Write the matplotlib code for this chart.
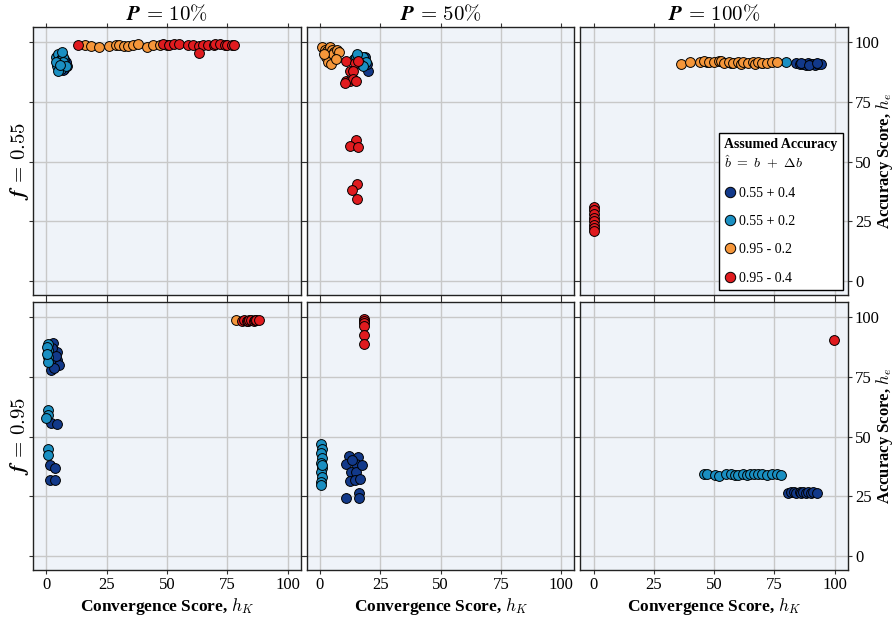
import matplotlib.pyplot as plt
from matplotlib.lines import Line2D

plt.rcParams["font.family"] = ["Liberation Serif", "DejaVu Serif"]
plt.rcParams["mathtext.fontset"] = "cm"

# ── Data ────────────────────────────────────────────────────────────────────
series_labels = ["0.55 + 0.4", "0.55 + 0.2", "0.95 - 0.2", "0.95 - 0.4"]
series_colors = ["#12398a", "#1a8fc2", "#f5963a", "#e01b1f"]
col_titles = [r"$\boldsymbol{P}\,\mathbf{=}\,\mathbf{10\%}$", r"$\boldsymbol{P}\,\mathbf{=}\,\mathbf{50\%}$",
              r"$\boldsymbol{P}\,\mathbf{=}\,\mathbf{100\%}$"]
row_titles = [r"$\boldsymbol{f}\,\mathbf{=}\,\mathbf{0.55}$", r"$\boldsymbol{f}\,\mathbf{=}\,\mathbf{0.95}$"]
ticks = [0, 25, 50, 75, 100]

# f = 0.55, P = 10%
a1_db_x = [7, 7.5, 8, 8.5, 7, 8, 7.5]
a1_db_y = [90, 89, 91, 90, 88.5, 92, 93]
a1_mb_x = [4, 5, 6, 5.5, 7, 4.5, 6, 7, 5, 6.5, 8, 4, 5.5]
a1_mb_y = [94, 95, 93, 91, 94, 90, 89, 92, 88, 96, 90, 92, 90.5]
a1_or_x = [16, 18.5, 22, 25.8, 28.7, 30, 32, 34, 36, 38, 41.8, 44.3, 47, 50]
a1_or_y = [99, 98.6, 98.2, 98.7, 98.8, 98.9, 98.7, 98.6, 98.9, 99.2, 98, 98.9, 99, 99.1]
a1_rd_x = [13, 48.5, 51, 53, 55, 58.6, 60.7, 63.5, 65, 67, 69.7, 70, 72, 74, 75, 77, 78, 63.5]
a1_rd_y = [99, 99.3, 99, 99.2, 99.2, 99, 99.1, 98.6, 99, 99, 98.8, 99.3, 99.2, 99.1, 98.8, 99.1, 99, 95.5]

# f = 0.55, P = 50%
a2_db_x = [17, 18, 19, 20, 18.5, 19.5]
a2_db_y = [93, 92, 90, 88, 94, 91]
a2_mb_x = [14, 15, 16, 17, 18, 19, 16.5, 18, 15.5]
a2_mb_y = [93, 94, 92, 93, 94, 92, 91, 90, 95]
a2_or_x = [1, 2, 3, 4, 5, 6, 2.5, 3.5, 5.5, 7, 8, 1.5, 4.5, 6.5]
a2_or_y = [98, 97, 96.5, 98, 97, 96, 94, 92, 95, 97, 96, 95, 91, 93]
a2_rd_x = [11, 14.4, 15.6, 12.3, 13.6, 11, 12.3, 13.6, 15.1, 10.3, 14.8, 12.3, 15.6, 15.4, 13.3, 15.4]
a2_rd_y = [92.2, 91.5, 92.2, 88, 88, 83.8, 83.8, 84.5, 83.8, 83.1, 59.2, 56.4, 56.2, 40.6, 37.9, 34.3]

# f = 0.55, P = 100%
a3_db_x = [84, 85.5, 87, 88, 89, 90, 91, 92, 93, 94.5, 86, 89.5, 92.5]
a3_db_y = [91.2, 90.8, 91, 90.5, 91.2, 90.8, 91, 90.5, 90.8, 90.8, 91.4, 90.6, 91.2]
a3_mb_x = [80, 47, 57, 70]
a3_mb_y = [92, 91.8, 91.5, 91.5]
a3_or_x = [36.4, 39.8, 44, 46, 48, 50, 52, 53, 54, 56, 58, 60, 61, 62, 64, 66, 67, 68, 70, 72, 74, 76]
a3_or_y = [91, 91.8, 92, 92.3, 91.8, 92, 92.3, 92.1, 91.2, 91.8, 91.5, 92, 90.8, 91.6, 91.2, 91.8, 91, 92, 91.5, 91.2, 91.6, 91.7]
a3_rd_x = [0, 0, 0, 0, 0, 0, 0, 0]
a3_rd_y = [31, 29.5, 28, 26.5, 25, 23.5, 22, 21]

# f = 0.95, P = 10%
b1_db_x = [2.9, 4.6, 4.6, 5.3, 1.9, 3.3, 2.5, 4, 1.9, 4.6, 1.5, 3.7, 1.6, 3.7]
b1_db_y = [89.1, 85.5, 82, 79.9, 77.8, 78.7, 87, 84, 55.5, 55.2, 38.1, 36.7, 31.8, 31.8]
b1_mb_x = [0.5, 0.5, 0.5, 0.5, 0.3, 0.3, 0.5, 0.5, 0, 0.5, 0.5]
b1_mb_y = [89, 86.2, 83.4, 81.3, 87.5, 84.8, 61.1, 59, 57.6, 45, 42.3]
b1_or_x = [78.7]
b1_or_y = [99]
b1_rd_x = [81, 82, 83, 83.5, 84, 85, 86, 86.5, 87, 88]
b1_rd_y = [98.7, 99, 98.6, 98.5, 98.9, 99, 98.7, 99.1, 98.8, 98.9]

# f = 0.95, P = 50%
b2_db_x = [12.1, 15.8, 11, 14.8, 13, 15.1, 12.3, 14.4, 16.7, 11, 16.2, 16.2, 17.5, 13.5]
b2_db_y = [42, 41.3, 38.5, 38.5, 35.3, 35.3, 31.5, 31.8, 32.2, 24.1, 26.2, 24.1, 38, 40]
b2_mb_x = [0.5, 0.8, 0.6, 0.9, 0.5, 0.7, 0.4, 0.8, 0.6, 0.5, 0.7]
b2_mb_y = [47, 45, 43, 41, 39, 37, 35, 33, 31, 29.5, 38]
b2_or_x = []
b2_or_y = []
b2_rd_x = [18.4, 18.4, 18.4, 18.4, 18.4, 18.4]
b2_rd_y = [99.5, 98.5, 97.5, 96.5, 92.5, 88.7]

# f = 0.95, P = 100%
b3_db_x = [80.5, 82, 83, 84, 85.5, 86, 87, 88, 89, 90, 91, 92.5]
b3_db_y = [26.5, 26.8, 26.7, 26.4, 26.6, 26.3, 26.8, 26.4, 26.7, 26.5, 26.6, 26.5]
b3_mb_x = [46, 47, 50.5, 52, 55, 57, 58.5, 60, 62, 63.5, 65, 66.5, 68, 70, 72, 74, 76, 77.9]
b3_mb_y = [34.1, 34.3, 34, 33.6, 34.2, 34.3, 33.8, 34, 34.4, 34, 34.1, 34.3, 34.5, 34.2, 34, 34.1, 34.3, 34]
b3_or_x = []
b3_or_y = []
b3_rd_x = [99.6]
b3_rd_y = [90.7]

panels = [
    [[(a1_db_x, a1_db_y), (a1_mb_x, a1_mb_y), (a1_or_x, a1_or_y), (a1_rd_x, a1_rd_y)],
     [(a2_db_x, a2_db_y), (a2_mb_x, a2_mb_y), (a2_or_x, a2_or_y), (a2_rd_x, a2_rd_y)],
     [(a3_db_x, a3_db_y), (a3_mb_x, a3_mb_y), (a3_or_x, a3_or_y), (a3_rd_x, a3_rd_y)]],
    [[(b1_db_x, b1_db_y), (b1_mb_x, b1_mb_y), (b1_or_x, b1_or_y), (b1_rd_x, b1_rd_y)],
     [(b2_db_x, b2_db_y), (b2_mb_x, b2_mb_y), (b2_or_x, b2_or_y), (b2_rd_x, b2_rd_y)],
     [(b3_db_x, b3_db_y), (b3_mb_x, b3_mb_y), (b3_or_x, b3_or_y), (b3_rd_x, b3_rd_y)]],
]

# ── Figure ──────────────────────────────────────────────────────────────────
fig, axes = plt.subplots(2, 3, figsize=(8.94, 6.2), dpi=100,
                         gridspec_kw=dict(left=0.037, right=0.9485, top=0.9565,
                                          bottom=0.0806, wspace=0.022, hspace=0.026))

for r in range(2):
    for c in range(3):
        ax = axes[r, c]
        ax.set_facecolor("#eff3f9")
        ax.set_axisbelow(True)
        ax.grid(True, color="#c8c8c8", linewidth=1)
        for (xs, ys), col in zip(panels[r][c], series_colors):
            ax.scatter(xs, ys, s=50, color=col, edgecolor="black", linewidth=0.7, zorder=3)
        ax.set_xlim(-5.5, 105.5)
        ax.set_ylim(-6, 106.5)
        ax.set_xticks(ticks)
        ax.set_yticks(ticks)
        ax.tick_params(direction="out", length=3, pad=2, top=True, right=True,
                       left=True, bottom=True, labelsize=12, colors="#333333",
                       labelcolor="black")
        ax.tick_params(labelleft=False, labelbottom=(r == 1), labelright=(c == 2))
        for sp in ax.spines.values():
            sp.set_color("#222222")
            sp.set_linewidth(1)
        if r == 1:
            ax.set_xlabel(r"Convergence Score, $h_K$", fontsize=12.5,
                          fontweight="bold", labelpad=2)
        if r == 0:
            ax.set_title(col_titles[c], fontsize=15, pad=5)

# row labels on the left, accuracy labels on the right
for r in range(2):
    box = axes[r, 0].get_position()
    yc = (box.y0 + box.y1) / 2
    fig.text(0.022, yc, row_titles[r], rotation=90, fontsize=15,
             ha="center", va="center")
    fig.text(0.989, yc, r"Accuracy Score, $h_e$", rotation=90,
             fontsize=12, fontweight="bold", ha="center", va="center")

handles = [Line2D([], [], marker="o", linestyle="none", markersize=7.5,
                  markerfacecolor=col, markeredgecolor="black", markeredgewidth=0.7)
           for col in series_colors]
leg = axes[0, 2].legend(handles, series_labels, loc="lower right",
                        title="Assumed Accuracy\n" + r"$\hat{b}\ =\ b\ +\ \Delta b$",
                        fontsize=10, title_fontsize=10, labelspacing=1.1,
                        handlelength=0.8, handletextpad=0.25, borderaxespad=0.35,
                        borderpad=0.4, fancybox=False,
                        edgecolor="black", framealpha=1, alignment="left")
leg.get_frame().set_linewidth(1)
leg.get_title().set_fontweight("bold")

fig.savefig("out.png", dpi=100)
